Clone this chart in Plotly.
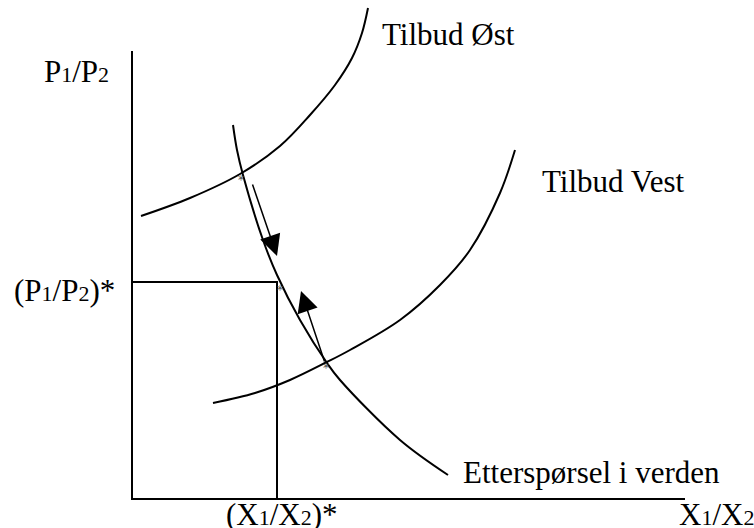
import plotly.graph_objects as go

# Coordinates are in diagram units: origin at the axes' corner, 1 unit ~ 1 px
OX, OY = 132, 499  # picture position of the origin (used only for axis ranges)

# Curves (x to the right, y upward from origin)
ost_x = [9, 58, 108, 148, 178, 203, 220, 230, 236]
ost_y = [283, 301, 325, 353, 384, 414, 441, 466, 491]

vest_x = [81, 123, 158, 195, 218, 268, 308, 338, 368, 383]
vest_y = [96, 106, 119, 137, 149, 179, 214, 249, 306, 349]

dem_x = [101, 105, 111, 131, 145, 168, 195, 208, 268, 316]
dem_y = [374, 349, 324, 259, 224, 179, 136, 119, 59, 24]

# equilibrium / start points (small asterisks)
star_x = [109, 148, 194]
star_y = [318, 208, 130]

# equilibrium levels
p_star = 217
x_star = 145
x_axis_end = 553
y_axis_top = 448

# arrows (tail -> tip)
arrows = [((120, 316), (145, 243)), ((193, 136), (169, 208))]

FONT = "Liberation Serif, Times New Roman, serif"
BLK = "#000000"


def sub(d):
    return '<span style="font-size:22px">' + d + "</span>"


fig = go.Figure()
# axes
fig.add_trace(go.Scatter(x=[0, 0, x_axis_end], y=[y_axis_top, 0, 0], mode="lines",
                         line=dict(color=BLK, width=2), hoverinfo="skip"))
# equilibrium box
fig.add_trace(go.Scatter(x=[0, x_star, x_star], y=[p_star, p_star, 0], mode="lines",
                         line=dict(color=BLK, width=2), hoverinfo="skip"))
for cx, cy in [(ost_x, ost_y), (vest_x, vest_y), (dem_x, dem_y)]:
    fig.add_trace(go.Scatter(x=cx, y=cy, mode="lines",
                             line=dict(color=BLK, width=2, shape="spline", smoothing=1.0),
                             hoverinfo="skip"))
fig.add_trace(go.Scatter(x=star_x, y=star_y, mode="text", text=["*"] * 3,
                         textfont=dict(family="DejaVu Sans", size=12, color="#555555"),
                         textposition="middle center", hoverinfo="skip"))

for (tx, ty), (hx, hy) in arrows:
    fig.add_annotation(x=hx, y=hy, ax=tx, ay=ty, xref="x", yref="y", axref="x", ayref="y",
                       showarrow=True, arrowhead=2, arrowsize=2.8, arrowwidth=1.5,
                       arrowcolor=BLK, standoff=0, text="")

labels = [
    ("Tilbud Øst", 249, 499 - 34.5),
    ("Tilbud Vest", 409, 499 - 181.5),
    ("Etterspørsel i verden", 330, 499 - 472.5),
    ("P" + sub("1") + "/P" + sub("2"), -89, 499 - 71.5),
    ("(P" + sub("1") + "/P" + sub("2") + ")*", -119, 499 - 290),
    ("(X" + sub("1") + "/X" + sub("2") + ")*", 93, 499 - 514),
    ("X" + sub("1") + "/X" + sub("2"), 546, 499 - 514),
]
for txt, lx, ly in labels:
    fig.add_annotation(x=lx, y=ly, xref="x", yref="y", text=txt, showarrow=False,
                       xanchor="left", yanchor="middle", borderpad=0,
                       font=dict(family=FONT, size=31, color=BLK))

fig.update_layout(
    width=754, height=528, margin=dict(l=0, r=0, t=0, b=0),
    paper_bgcolor="white", plot_bgcolor="white", showlegend=False,
    xaxis=dict(range=[-OX, 754 - OX], visible=False, fixedrange=True),
    yaxis=dict(range=[OY - 528, OY], visible=False, fixedrange=True),
)

fig.write_html("out.html", config={"displayModeBar": False},
               post_script="document.body.style.margin='0';document.body.style.overflow='hidden';")
